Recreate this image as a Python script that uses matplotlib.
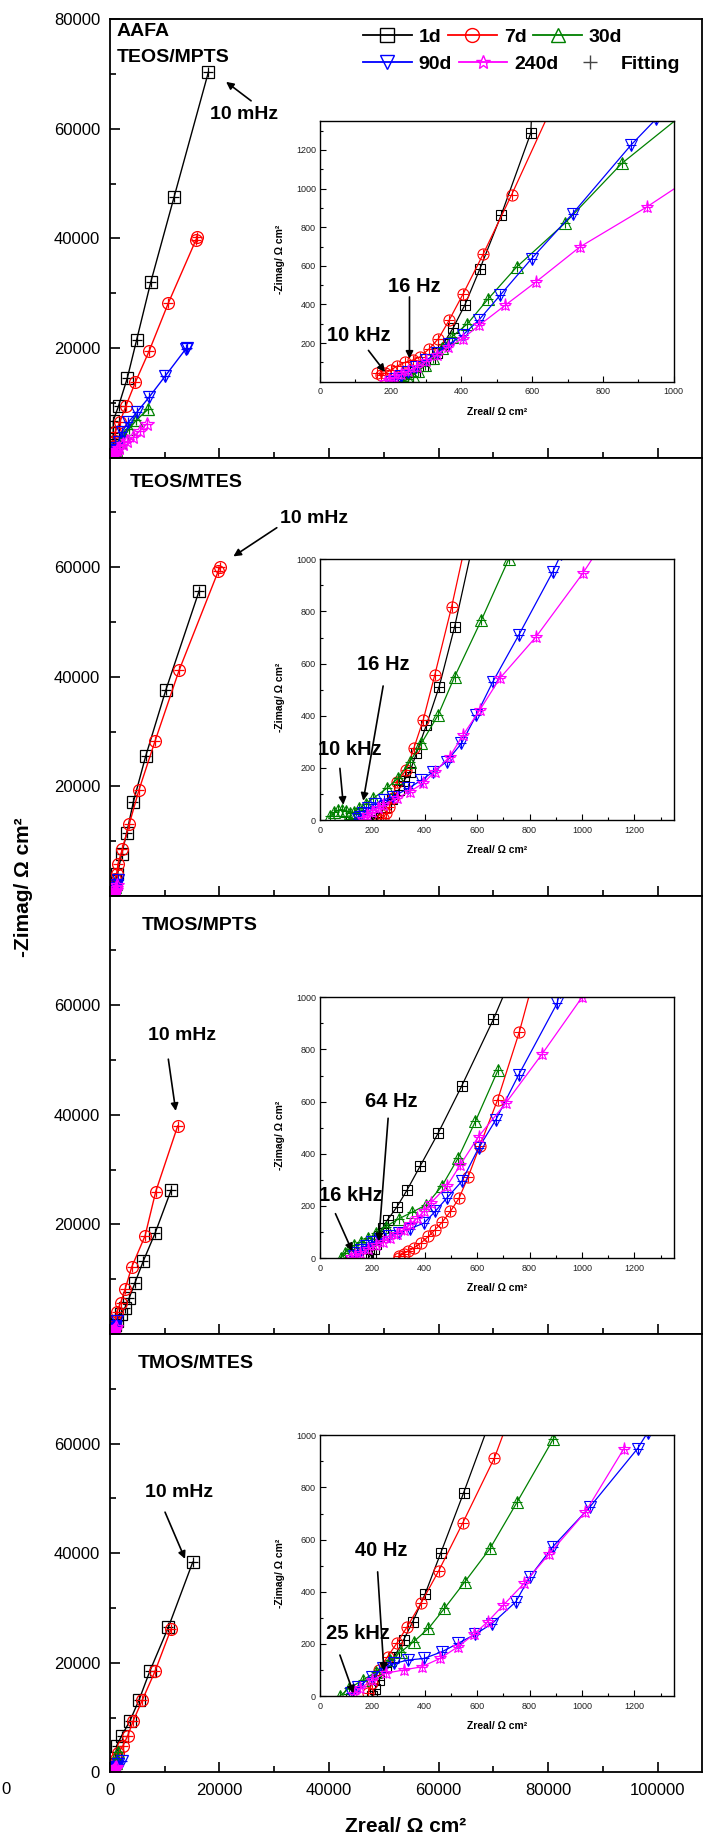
import numpy as np
import matplotlib.pyplot as plt
from matplotlib.lines import Line2D
from matplotlib.ticker import MultipleLocator

plt.rcParams['font.family'] = ['Liberation Sans', 'DejaVu Sans']

# ---- data (Zreal, -Zimag) in ohm cm2 ----
# panel 1: TEOS/MPTS
p1_1d = [(235, 5), (250, 25), (268, 50), (290, 80), (312, 115), (330, 150), (349, 197), (377, 280),
         (410, 399), (452, 584), (512, 862), (596, 1288), (610, 1900), (620, 2900), (630, 4500),
         (640, 6740), (1620, 9480), (3200, 14530), (4910, 21530), (7470, 32010), (11720, 47530),
         (17990, 70360)]
p1_7d = [(162, 45), (172, 35), (185, 45), (200, 60), (217, 80), (240, 100), (262, 112), (283, 129),
         (308, 169), (335, 223), (365, 318), (405, 456), (462, 663), (542, 969), (650, 1400),
         (800, 2100), (900, 3100), (950, 4620), (1860, 6560), (2960, 9480), (4660, 13750),
         (7160, 19410), (10690, 28230), (15700, 39700), (15980, 40230)]
p1_30d = [(235, 3), (248, 15), (262, 32), (278, 55), (298, 85), (320, 125), (345, 175), (372, 231),
          (417, 300), (476, 430), (556, 594), (693, 822), (853, 1130), (1050, 1420), (1400, 2000),
          (1900, 2800), (2600, 3900), (3500, 5200), (4800, 6800), (7030, 8870)]
p1_90d = [(200, 0), (212, 12), (228, 28), (248, 48), (272, 75), (300, 110), (330, 150), (365, 195),
          (403, 240), (450, 321), (509, 447), (598, 637), (714, 870), (879, 1225), (950, 1360),
          (1200, 1800), (1600, 2900), (2170, 4620), (3380, 6450), (5020, 8380), (7160, 11010),
          (10080, 14840), (13860, 19830), (14000, 20000)]
p1_240d = [(185, 0), (195, 10), (210, 22), (228, 38), (250, 55), (275, 78), (300, 105), (330, 140),
           (362, 180), (403, 223), (450, 292), (523, 395), (610, 516), (735, 698), (924, 905),
           (1250, 1300), (1700, 1800), (2400, 2400), (3200, 2950), (4290, 3710), (5510, 4910),
           (6740, 6140)]

# panel 2: TEOS/MTES
p2_1d = [(200, 0), (215, 12), (232, 28), (250, 50), (275, 80), (300, 115), (320, 150), (343, 185),
         (368, 256), (406, 364), (455, 512), (514, 742), (610, 1180), (750, 1900), (1000, 2800),
         (1400, 4000), (2170, 7670), (3080, 11450), (4290, 17110), (6550, 25510), (10200, 37500),
         (16290, 55640)]
p2_7d = [(230, 0), (240, 8), (252, 25), (265, 50), (278, 85), (292, 147), (330, 192), (358, 275),
         (394, 384), (438, 556), (502, 816), (575, 1150), (700, 1850), (950, 3000), (1250, 4020),
         (1500, 5840), (2280, 8580), (3560, 13150), (5330, 19360), (8250, 28250), (12640, 41160),
         (19800, 59300), (20120, 60020)]
p2_30d = [(40, 15), (55, 30), (70, 38), (85, 40), (100, 35), (115, 25), (130, 30), (150, 45),
          (175, 62), (203, 83), (254, 121), (298, 160), (343, 224), (387, 294), (451, 403),
          (514, 550), (616, 767), (720, 1000), (850, 1300), (1000, 1700), (1200, 2200)]
p2_90d = [(145, 5), (152, 13), (165, 28), (185, 45), (210, 62), (245, 78), (279, 90), (337, 121),
          (387, 153), (432, 185), (483, 224), (540, 294), (597, 403), (660, 531), (759, 710),
          (889, 953), (920, 1020), (1050, 1400), (1250, 2000), (1550, 2920)]
p2_240d = [(165, 5), (180, 18), (200, 32), (220, 45), (241, 58), (292, 83), (343, 109), (394, 141),
           (438, 185), (495, 243), (546, 326), (610, 422), (686, 543), (825, 703), (1003, 946),
           (1070, 1050), (1200, 1400), (1350, 1900)]

# panel 3: TMOS/MPTS
p3_1d = [(185, 0), (195, 15), (205, 35), (215, 55), (224, 83), (240, 115), (258, 147), (293, 195),
         (333, 262), (383, 354), (451, 479), (541, 660), (662, 916), (740, 1100), (950, 1600),
         (1300, 2400), (1990, 3600), (2780, 4800), (3560, 6630), (4600, 9370), (6120, 13330),
         (8250, 18380), (11180, 26240)]
p3_7d = [(300, 0), (302, 6), (319, 17), (336, 26), (357, 38), (385, 57), (414, 83), (440, 109),
         (466, 137), (498, 179), (531, 230), (565, 310), (610, 430), (678, 607), (761, 868),
         (810, 1050), (900, 1500), (1000, 2300), (1260, 4020), (1990, 5720), (2780, 8150),
         (4000, 12230), (6430, 17900), (8380, 25990), (12390, 37980)]
p3_30d = [(80, 0), (94, 19), (110, 35), (130, 48), (155, 60), (185, 75), (215, 95), (250, 120),
          (300, 150), (350, 175), (406, 204), (466, 277), (527, 383), (593, 524), (680, 722)]
p3_90d = [(128, 6), (140, 18), (155, 30), (175, 45), (200, 60), (230, 72), (265, 85), (300, 97),
          (345, 113), (397, 134), (440, 179), (484, 230), (541, 294), (605, 421), (671, 530),
          (758, 702), (905, 977), (915, 1020), (1000, 1400), (1260, 2370)]
p3_240d = [(120, 5), (135, 12), (154, 19), (185, 35), (215, 51), (240, 62), (267, 77), (293, 92),
           (319, 109), (345, 130), (371, 153), (397, 180), (423, 211), (484, 275), (536, 358),
           (605, 466), (709, 594), (848, 783), (1000, 1000), (1150, 1250)]

# panel 4: TMOS/MTES
p4_1d = [(198, 0), (210, 25), (225, 60), (250, 112), (284, 151), (319, 215), (354, 285), (401, 391),
         (461, 549), (548, 779), (640, 1030), (800, 1600), (1000, 2600), (1260, 4860), (2170, 6680),
         (3690, 9420), (5330, 13200), (7340, 18560), (10690, 26480), (15130, 38350)]
p4_7d = [(184, 10), (198, 49), (224, 100), (258, 151), (293, 202), (333, 266), (385, 355),
         (453, 480), (544, 662), (666, 914), (720, 1060), (850, 1500), (1050, 2400), (1500, 3500),
         (2350, 4750), (3270, 6680), (4290, 9420), (5940, 13200), (8250, 18440), (11180, 26170)]
p4_30d = [(76, 0), (111, 29), (163, 61), (215, 93), (267, 138), (310, 170), (357, 208), (414, 259),
          (475, 336), (553, 438), (649, 566), (753, 745), (891, 987), (910, 1030), (1100, 1700),
          (1300, 2500), (1550, 3650)]
p4_90d = [(120, 10), (146, 36), (198, 74), (241, 106), (284, 125), (336, 138), (397, 144),
          (466, 170), (527, 202), (593, 237), (657, 278), (747, 361), (801, 457), (888, 572),
          (1030, 725), (1212, 949), (1250, 1010), (1500, 1500), (2170, 2120)]
p4_240d = [(128, 8), (154, 29), (198, 61), (250, 87), (319, 100), (388, 112), (458, 144),
           (527, 189), (588, 237), (640, 285), (700, 349), (779, 432), (874, 544), (1013, 706),
           (1160, 949)]

panel_data = [[p1_1d, p1_7d, p1_30d, p1_90d, p1_240d],
              [p2_1d, p2_7d, p2_30d, p2_90d, p2_240d],
              [p3_1d, p3_7d, p3_30d, p3_90d, p3_240d],
              [p4_1d, p4_7d, p4_30d, p4_90d, p4_240d]]
labels = ['1d', '7d', '30d', '90d', '240d']
colors = ['#000000', '#FF0000', '#008000', '#0000FF', '#FF00FF']
markers = ['s', 'o', '^', 'v', '*']
msizes = [8, 8.5, 8.5, 9, 10]

# frequency annotations: (text, text_xy, arrow_tail, arrow_tip)
main_notes = [('10 mHz', (18300, 62610), (25780, 65120), (21220, 68580)),
              ('10 mHz', (31080, 68840), (30470, 67200), (22550, 61970)),
              ('10 mHz', (6920, 54540), (10680, 50160), (12030, 40720)),
              ('10 mHz', (6430, 51130), (10080, 47480), (13730, 38950))]
inset_notes = [[('16 Hz', (193, 494), (253, 439), (253, 119)),
                ('10 kHz', (21, 240), (137, 162), (184, 50))],
               [('16 Hz', (142, 595), (241, 514), (165, 74)),
                ('10 kHz', (-6, 269), (76, 198), (89, 58))],
               [('64 Hz', (172, 600), (260, 536), (224, 64)),
                ('16 kHz', (-5, 239), (59, 170), (123, 26))],
               [('40 Hz', (134, 559), (220, 476), (244, 97)),
                ('25 kHz', (21, 238), (76, 157), (128, 10))]]

# ---- layout (pixels) ----
W, H = 711, 1843
fig = plt.figure(figsize=(W / 100, H / 100), dpi=100)


def fx(px):
    return px / W


def fy(py):
    return 1 - py / H


left, right = 109.8, 701.7
panel_top = [19.3, 457.6, 895.7, 1334.0]
panel_h = 438.3
inset_x = (320, 673.7)
inset_top = [121, 559.3, 997.3, 1435.3]
inset_h = 260.7

arrow_kw = dict(arrowstyle='-|>', color='k', lw=1.2, mutation_scale=11, shrinkA=0, shrinkB=0)

for i in range(4):
    ax = fig.add_axes([fx(left), fy(panel_top[i] + panel_h), (right - left) / W, panel_h / H])
    for k, pts in enumerate(panel_data[i]):
        xy = np.array(pts, dtype=float)
        ax.plot(xy[:, 0], xy[:, 1], color=colors[k], marker=markers[k], ms=msizes[k],
                mfc='none', mew=0.9, lw=1.0)
        ax.plot(xy[:, 0], xy[:, 1], ls='none', marker='+', color=colors[k], ms=7, mew=0.9)
    ax.set_xlim(0, 108000)
    ax.set_ylim(0, 80000)
    ax.set_xticks(np.arange(0, 100001, 20000))
    ax.xaxis.set_minor_locator(MultipleLocator(10000))
    ax.set_yticks(np.arange(0, 80001, 20000))
    ax.yaxis.set_minor_locator(MultipleLocator(10000))
    ylabs = ['', '20000', '40000', '60000', '80000' if i == 0 else '']
    if i == 3:
        ylabs[0] = '0'
    ax.set_yticklabels(ylabs)
    ax.set_xticklabels(['0', '20000', '40000', '60000', '80000', '100000'])
    ax.tick_params(which='both', direction='in', top=False, right=False, width=1.2,
                   labelsize=12, labelbottom=(i == 3))
    ax.tick_params(axis='y', pad=7)
    ax.tick_params(axis='x', pad=8)
    ax.tick_params(which='major', length=7)
    ax.tick_params(which='minor', length=4)
    for s in ax.spines.values():
        s.set_linewidth(1.3)

    txt, txy, tail, tip = main_notes[i]
    ax.text(txy[0], txy[1], txt, fontsize=14, weight='bold', va='center', ha='left')
    ax.annotate('', xy=tip, xytext=tail, arrowprops=arrow_kw)

    # inset zoom of the high-frequency region
    axi = fig.add_axes([fx(inset_x[0]), fy(inset_top[i] + inset_h),
                        (inset_x[1] - inset_x[0]) / W, inset_h / H])
    for k, pts in enumerate(panel_data[i]):
        xy = np.array(pts, dtype=float)
        axi.plot(xy[:, 0], xy[:, 1], color=colors[k], marker=markers[k], ms=msizes[k] - 0.5,
                 mfc='none', mew=0.8, lw=0.9)
        axi.plot(xy[:, 0], xy[:, 1], ls='none', marker='+', color=colors[k], ms=7, mew=0.8)
    if i == 0:
        axi.set_xlim(0, 1000)
        axi.set_ylim(0, 1350)
        axi.set_xticks(np.arange(0, 1001, 200))
        axi.set_yticks(np.arange(200, 1201, 200))
    else:
        axi.set_xlim(0, 1350)
        axi.set_ylim(0, 1000)
        axi.set_xticks(np.arange(0, 1201, 200))
        axi.set_yticks(np.arange(0, 1001, 200))
    axi.xaxis.set_minor_locator(MultipleLocator(100))
    axi.yaxis.set_minor_locator(MultipleLocator(100))
    axi.tick_params(which='both', direction='in', top=False, right=False, width=0.8,
                    labelsize=6.5, labelcolor='#222222')
    axi.tick_params(which='major', length=4)
    axi.tick_params(which='minor', length=2.5)
    axi.tick_params(axis='x', pad=4)
    axi.tick_params(axis='y', pad=3)
    for s in axi.spines.values():
        s.set_linewidth(1.0)
    axi.text(0.5, -0.1155, 'Zreal/ Ω cm²', transform=axi.transAxes, ha='center', va='center',
             fontsize=7.5, weight='bold')
    axi.text(-0.113, 0.47, '-Zimag/ Ω cm²', transform=axi.transAxes, ha='center', va='center',
             fontsize=7.5, weight='bold', rotation=90)
    for txt, txy, tail, tip in inset_notes[i]:
        axi.text(txy[0], txy[1], txt, fontsize=14.5, weight='bold', va='center', ha='left')
        axi.annotate('', xy=tip, xytext=tail, arrowprops=arrow_kw, annotation_clip=False)

# panel titles
fig.text(fx(117), fy(32), 'AAFA', fontsize=14, weight='bold', va='center')
fig.text(fx(117), fy(58), 'TEOS/MPTS', fontsize=14, weight='bold', va='center')
fig.text(fx(129.5), fy(482), 'TEOS/MTES', fontsize=14, weight='bold', va='center')
fig.text(fx(141.8), fy(926), 'TMOS/MPTS', fontsize=14, weight='bold', va='center')
fig.text(fx(137.3), fy(1363), 'TMOS/MTES', fontsize=14, weight='bold', va='center')

# axis labels
fig.text(fx(406), fy(1827), 'Zreal/ Ω cm²', fontsize=15, weight='bold', ha='center', va='center')
fig.text(fx(24), fy(887), '-Zimag/ Ω cm²', fontsize=15, weight='bold', ha='center', va='center',
         rotation=90)
fig.text(fx(1), fy(1790), '0', fontsize=12, ha='left', va='center')

# legend, two rows
handles = [Line2D([], [], color=c, marker=m, ms=10, mfc='none', mew=1.0, lw=1.3)
           for c, m in zip(colors, markers)]
fit_handle = Line2D([], [], ls='none', marker='+', color='#444444', ms=10, mew=1.0)
leg_kw = dict(ncol=3, loc='center left', frameon=False, borderpad=0, borderaxespad=0,
              handlelength=2.5, handletextpad=0.36, columnspacing=0.35,
              prop={'weight': 'bold', 'size': 14})
fig.legend(handles[:3], labels[:3], bbox_to_anchor=(fx(363), fy(37)), **leg_kw)
fig.legend(handles[3:] + [fit_handle], labels[3:] + ['Fitting'],
           bbox_to_anchor=(fx(363), fy(64)), **leg_kw)

fig.savefig('out.png', dpi=100)
